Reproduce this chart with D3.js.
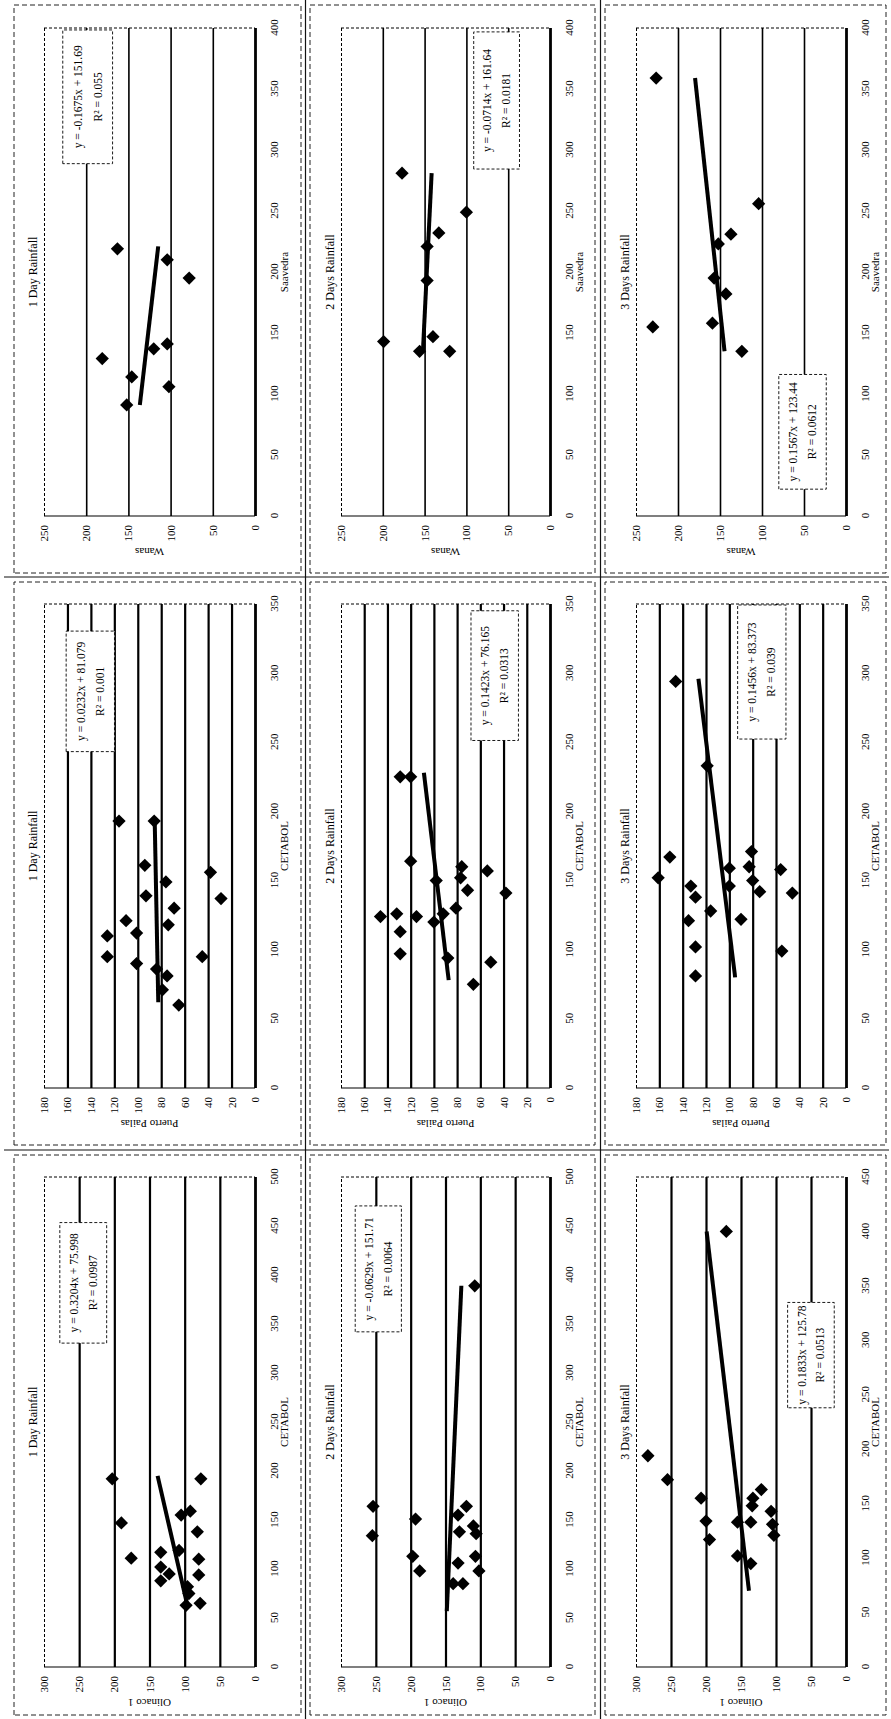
<!DOCTYPE html>
<html>
<head>
<meta charset="utf-8">
<script src="https://cdn.jsdelivr.net/npm/d3@7"></script>
<style>
  body { margin: 0; background: #fff; }
  svg { display: block; font-family: "Liberation Serif", "Times New Roman", serif; }
</style>
</head>
<body>
<svg id="chart" width="891" height="1719"></svg>
<script>
// titles and axis names
const rainTitles = ["1 Day Rainfall", "2 Days Rainfall", "3 Days Rainfall"];
const yTitles = ["Olinaco 1", "Puerto Pailas", "Wanas"];
const xTitles = ["CETABOL", "CETABOL", "Saavedra"];

// points: [x, y]
const olinacoDay1 = [[192,203],[147,190],[111,176],[117,134],[102,134],[88,134],[95,122],[119,108],[155,105],[159,92],[138,82],[110,80],[94,80],[192,77],[82,96],[75,94],[65,78],[63,98]];
const olinacoDay2 = [[164,254],[134,255],[151,193],[113,197],[98,187],[389,108],[85,139],[106,132],[138,130],[155,132],[164,120],[144,110],[136,106],[113,107],[98,102],[85,125]];
const olinacoDay3 = [[194,283],[172,255],[155,207],[134,200],[117,195],[400,171],[133,155],[102,155],[95,136],[133,136],[148,134],[155,133],[163,121],[143,107],[131,105],[121,103]];
const pailasDay1 = [[193,116],[193,86],[161,94],[139,93],[149,76],[130,69],[118,74],[121,110],[112,101],[110,126],[95,126],[90,101],[86,84],[81,75],[71,79],[60,65],[95,45],[156,38],[137,29]];
const pailasDay2 = [[225,129],[225,120],[164,120],[124,146],[126,132],[113,129],[97,129],[124,115],[120,100],[126,92],[94,88],[130,81],[152,77],[160,76],[143,71],[75,66],[91,51],[157,54],[141,38],[150,98]];
const pailasDay3 = [[152,161],[167,151],[294,146],[146,133],[138,129],[121,135],[102,129],[81,129],[128,116],[233,119],[159,100],[146,100],[122,90],[160,83],[171,81],[150,80],[142,74],[158,56],[99,55],[141,46]];
const wanasDay1 = [[219,163],[129,181],[91,152],[114,146],[137,120],[141,104],[106,102],[210,104],[195,78]];
const wanasDay2 = [[143,199],[281,177],[135,156],[147,140],[135,120],[193,147],[221,147],[232,133],[249,100]];
const wanasDay3 = [[359,226],[155,230],[158,159],[195,157],[223,152],[182,143],[231,137],[135,124],[256,104]];

// trendlines as printed on the charts
const trendSlope = [[0.3204, -0.0629, 0.1833], [0.0232, 0.1423, 0.1456], [-0.1675, -0.0714, 0.1567]];
const trendIntercept = [[75.998, 151.71, 125.78], [81.079, 76.165, 83.373], [151.69, 161.64, 123.44]];
const trendFrom = [[60, 57, 70], [62, 78, 80], [91, 135, 135]];
const trendTo = [[195, 389, 400], [193, 228, 296], [221, 281, 359]];
const rSquared = [["0.0987", "0.0064", "0.0513"], ["0.001", "0.0313", "0.039"], ["0.055", "0.0181", "0.0612"]];

// tick labels
const yTicksOlinaco = [0, 50, 100, 150, 200, 250, 300];
const yTicksPailas = [0, 20, 40, 60, 80, 100, 120, 140, 160, 180];
const yTicksWanas = [0, 50, 100, 150, 200, 250];
const xTicks500 = [0, 50, 100, 150, 200, 250, 300, 350, 400, 450, 500];
const xTicks450 = [0, 50, 100, 150, 200, 250, 300, 350, 400, 450];
const xTicks350 = [0, 50, 100, 150, 200, 250, 300, 350];
const xTicks400 = [0, 50, 100, 150, 200, 250, 300, 350, 400];

const series = [[olinacoDay1, olinacoDay2, olinacoDay3], [pailasDay1, pailasDay2, pailasDay3], [wanasDay1, wanasDay2, wanasDay3]];
const xTickSets = [[xTicks500, xTicks500, xTicks450], [xTicks350, xTicks350, xTicks350], [xTicks400, xTicks400, xTicks400]];
const yTickSets = [yTicksOlinaco, yTicksPailas, yTicksWanas];

// layout, drawn in the page's own (landscape) frame and then turned a quarter left
const colPanel = [[4, 564], [574, 1137], [1146, 1714]];
const colPlot = [[52, 542], [631, 1115], [1203, 1691]];
const rowPanel = [[14, 301], [310, 595], [605, 886]];
const rowPlot = [[44, 255], [341, 550], [636, 846]];
const gridWidth = [2.2, 2.2, 1.6];
// equation boxes as fractions of the plot: x0, x1, y0 (from top), y1
const boxPos = [
  [[0.661, 0.907, 0.075, 0.297], [0.684, 0.941, 0.068, 0.289], [0.529, 0.744, 0.722, 0.944]],
  [[0.695, 0.944, 0.105, 0.334], [0.718, 0.986, 0.622, 0.849], [0.721, 0.998, 0.484, 0.714]],
  [[0.722, 0.996, 0.089, 0.325], [0.711, 0.992, 0.635, 0.854], [0.055, 0.29, 0.68, 0.906]]
];

const svg = d3.select("#chart");
svg.append("rect").attr("width", 891).attr("height", 1719).attr("fill", "#fff");
const g = svg.append("g").attr("transform", "translate(0,1719) rotate(-90)");

// solid separators between the rows/columns of the scan
[305.5, 600.5].forEach(v => {
  g.append("line").attr("x1", 0).attr("x2", 1719).attr("y1", v).attr("y2", v)
    .attr("stroke", "#111").attr("stroke-width", 1.2);
});
[569, 1142].forEach(v => {
  g.append("line").attr("x1", v).attr("x2", v).attr("y1", 4).attr("y2", 889)
    .attr("stroke", "#111").attr("stroke-width", 1.2);
});

yTitles.forEach((_, si) => rainTitles.forEach((_, ri) => drawPanel(si, ri)));

function drawPanel(si, ri) {
  const [px0, px1] = colPanel[si], [py0, py1] = rowPanel[ri];
  const [l, r] = colPlot[si], [t, b] = rowPlot[ri];
  const xt = xTickSets[si][ri], yt = yTickSets[si];
  const xMax = d3.max(xt), yMax = d3.max(yt);
  const x = d3.scaleLinear().domain([0, xMax]).range([l, r]);
  const y = d3.scaleLinear().domain([0, yMax]).range([b, t]);
  const p = g.append("g");

  p.append("rect")
    .attr("x", px0).attr("y", py0).attr("width", px1 - px0).attr("height", py1 - py0)
    .attr("fill", "none").attr("stroke", "#222").attr("stroke-width", 1)
    .attr("stroke-dasharray", "5,3");

  // horizontal gridlines
  const grid = p.append("g").attr("transform", "translate(" + l + ",0)")
    .call(d3.axisLeft(y).tickValues(yt).tickSize(-(r - l)).tickFormat(""));
  grid.select(".domain").remove();
  grid.selectAll("line")
    .attr("stroke", "#000")
    .attr("stroke-width", d => d === 0 ? 2.8 : (d === yMax ? 1 : gridWidth[si]))
    .attr("stroke-dasharray", d => d === yMax ? "3,2" : null);

  // plot edges left and right
  p.append("line").attr("x1", x(0)).attr("x2", x(0)).attr("y1", t).attr("y2", b)
    .attr("stroke", "#000").attr("stroke-width", 1.2);
  p.append("line").attr("x1", x(xMax)).attr("x2", x(xMax)).attr("y1", t).attr("y2", b)
    .attr("stroke", "#000").attr("stroke-width", 1).attr("stroke-dasharray", "3,2");

  // axes labels
  const xa = p.append("g").attr("transform", "translate(0," + b + ")")
    .call(d3.axisBottom(x).tickValues(xt).tickSize(0).tickPadding(15));
  xa.select(".domain").remove();
  xa.selectAll("text").attr("font-size", 11).attr("font-family", "Liberation Serif").attr("fill", "#000");

  const ya = p.append("g").attr("transform", "translate(" + l + ",0)")
    .call(d3.axisLeft(y).tickValues(yt).tickSize(0).tickPadding(9));
  ya.select(".domain").remove();
  ya.selectAll("text").attr("font-size", 11).attr("font-family", "Liberation Serif").attr("fill", "#000");

  p.append("text").attr("x", (l + r) / 2).attr("y", t - 7)
    .attr("text-anchor", "middle").attr("font-size", 12).text(rainTitles[ri]);
  p.append("text").attr("x", (l + r) / 2).attr("y", b + 33)
    .attr("text-anchor", "middle").attr("font-size", 11).text(xTitles[si]);
  p.append("text")
    .attr("transform", "translate(" + (l - 32) + "," + ((t + b) / 2) + ") rotate(-90)")
    .attr("text-anchor", "middle").attr("font-size", 11).text(yTitles[si]);

  // trendline
  const m = trendSlope[si][ri], c = trendIntercept[si][ri];
  const ends = [trendFrom[si][ri], trendTo[si][ri]].map(v => [v, m * v + c]);
  p.append("path")
    .attr("d", d3.line().x(d => x(d[0])).y(d => y(d[1]))(ends))
    .attr("fill", "none").attr("stroke", "#000").attr("stroke-width", 4);

  // markers
  p.selectAll(".pt").data(series[si][ri]).join("path")
    .attr("class", "pt")
    .attr("d", d3.symbol(d3.symbolSquare, 88))
    .attr("transform", d => "translate(" + x(d[0]) + "," + y(d[1]) + ") rotate(45)")
    .attr("fill", "#000");

  // equation box
  const [fx0, fx1, fy0, fy1] = boxPos[si][ri];
  const bx0 = l + fx0 * (r - l), bx1 = l + fx1 * (r - l);
  const by0 = t + fy0 * (b - t), by1 = t + fy1 * (b - t);
  p.append("rect").attr("x", bx0).attr("y", by0).attr("width", bx1 - bx0).attr("height", by1 - by0)
    .attr("fill", "#fff").attr("stroke", "#000").attr("stroke-width", 0.9)
    .attr("stroke-dasharray", "3,2");
  const eq = "y = " + m + "x + " + c;
  p.append("text").attr("x", (bx0 + bx1) / 2).attr("y", by0 + 0.3 * (by1 - by0) + 4)
    .attr("text-anchor", "middle").attr("font-size", 11.5).text(eq);
  p.append("text").attr("x", (bx0 + bx1) / 2).attr("y", by0 + 0.7 * (by1 - by0) + 4)
    .attr("text-anchor", "middle").attr("font-size", 11.5).text("R\u00B2 = " + rSquared[si][ri]);
}
</script>
</body>
</html>
